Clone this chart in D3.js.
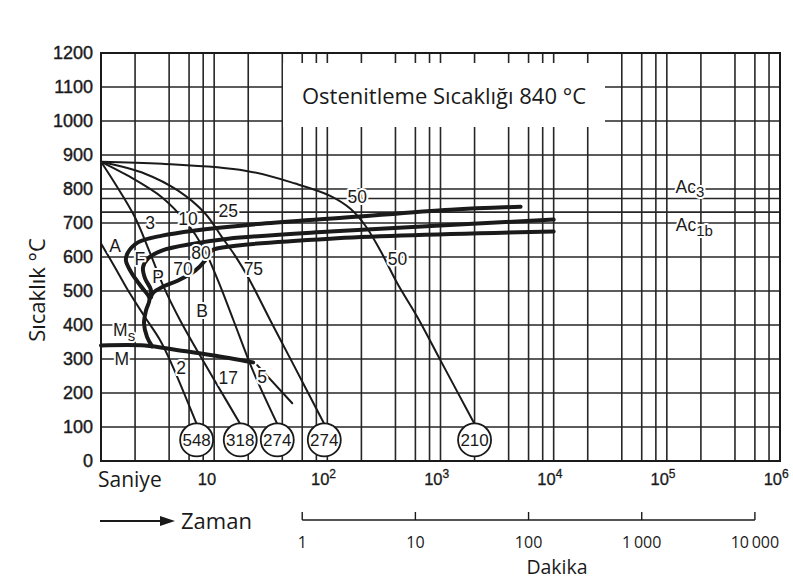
<!DOCTYPE html>
<html>
<head>
<meta charset="utf-8">
<script src="https://cdn.jsdelivr.net/npm/d3@7"></script>
<style>
  html, body { margin: 0; padding: 0; background: #fff; }
  svg { display: block; }
</style>
</head>
<body>
<svg id="chart" width="793" height="580"></svg>
<script>
// ---- Data -------------------------------------------------------------
// Temperature axis (°C)
const tempTicks = [0, 100, 200, 300, 400, 500, 600, 700, 800, 900, 1000, 1100, 1200];
// Extra horizontal rules for the Ac3 and Ac1b transformation temperatures
const acTemps = [772, 732];
// Time axis: decades (seconds) and the grid multiples drawn inside each decade
const decadeExponents = [1, 2, 3, 4, 5, 6];
const gridMultiples = [2, 4, 6, 8, 10];
// Second time scale in minutes
const minuteTicks = [1, 10, 100, 1000, 10000];
const minuteLabels = ["1", "10", "100", "1\u2009000", "10\u2009000"];

// Cooling curves: [time in s, temperature in °C]
const cool548  = [[1.0, 640], [1.33, 569], [1.73, 502], [2.45, 423], [3.33, 355], [4.25, 282], [7.0, 109]];
const cool318  = [[1, 880], [1.33, 816], [2.0, 716], [2.66, 619], [3.54, 516], [5.0, 414], [7.22, 320], [10.8, 220], [17.0, 109]];
const cool274a = [[1, 880], [1.73, 839], [3.47, 775], [5.7, 701], [8.1, 625], [10.8, 531], [14.8, 414], [21.9, 267], [36.1, 109]];
const cool274b = [[1, 880], [2.45, 845], [4.8, 795], [8.32, 728], [11.8, 657], [15.3, 604], [20, 540], [31.3, 414], [49, 290], [94, 109]];
const cool210  = [[1, 880], [3.47, 874], [18.8, 854], [52.1, 816], [106, 780], [160, 742], [217, 692], [294, 619], [416, 522], [626, 423], [1000, 296], [2000, 109]];
const coolingCurves = [cool548, cool318, cool274a, cool274b, cool210];
// Hardness (HV) at the end of each cooling curve
const hardness = [548, 318, 274, 274, 210];
const hardnessTemp = 62;

// Transformation lines [s, °C]
const ferriteStart  = [[5100, 748], [1226, 739], [144, 716], [26.1, 698], [6.79, 678], [3.47, 663], [2.12, 643], [1.73, 613], [1.66, 590], [1.87, 552], [2.29, 511], [2.68, 478], [2.5, 443], [2.4, 405], [2.55, 365], [2.83, 337]];
const pearliteStart = [[10000, 710], [106, 675], [13.3, 654], [6.79, 640], [3.45, 619], [2.61, 596], [2.35, 569], [2.45, 537], [2.75, 505], [2.75, 481]];
const pearliteEnd   = [[10000, 675], [106, 654], [11.8, 628], [9.5, 619], [8.32, 590], [6.79, 560], [4.8, 531], [3.45, 511], [2.9, 495], [2.75, 481]];
const martensiteLine = [[1, 340], [2.45, 340], [4.8, 326], [9.6, 311], [22.1, 290]];
const martensiteTail = [[24, 282], [49, 170]];

// Annotations: [text, subscript, time s, temperature °C]
const annotations = [
  ["A", "", 1.33, 634], ["F", "", 2.21, 596], ["P", "", 3.19, 543],
  ["70", "", 5.31, 566], ["80", "", 7.66, 613], ["B", "", 7.82, 443],
  ["75", "", 22.2, 566], ["3", "", 2.71, 701], ["10", "", 5.88, 713],
  ["25", "", 13.3, 736], ["50", "", 184, 778], ["50", "", 416, 596],
  ["2", "", 5.11, 273], ["17", "", 13.3, 244], ["5", "", 26.5, 249],
  ["M", "s", 1.6, 386], ["M", "", 1.53, 302],
  ["Ac", "3", 160000, 807], ["Ac", "1b", 175000, 695]
];

// ---- Layout -----------------------------------------------------------
const svg = d3.select("#chart");
const plotLeft = 101, plotRight = 780, plotTop = 53, plotBottom = 461;
const x = d3.scaleLog().domain([1, 1e6]).range([plotLeft, plotRight]);
const y = d3.scaleLinear().domain([0, 1200]).range([plotBottom, plotTop]);
const ink = "#1a1a1a";
const numFont = "'Liberation Sans', Arial, sans-serif";
const textFont = "'Open Sans', 'Noto Sans', sans-serif";

// ---- Grid -------------------------------------------------------------
const grid = svg.append("g").attr("stroke", "#262626").attr("stroke-width", 1.6);
const vGrid = [];
decadeExponents.forEach(e => gridMultiples.forEach(m => vGrid.push(m * Math.pow(10, e - 1))));
grid.selectAll("line.v").data(vGrid).join("line").attr("class", "v")
  .attr("x1", d => x(d)).attr("x2", d => x(d))
  .attr("y1", plotTop).attr("y2", plotBottom);
grid.selectAll("line.h").data(tempTicks.concat(acTemps)).join("line").attr("class", "h")
  .attr("x1", plotLeft).attr("x2", plotRight)
  .attr("y1", d => y(d)).attr("y2", d => y(d));

// Title panel blanks the grid behind it
svg.append("rect").attr("x", 283).attr("y", 63).attr("width", 322).attr("height", 64).attr("fill", "#fff");
svg.append("text").attr("x", 444).attr("y", 104).attr("text-anchor", "middle")
  .attr("font-family", textFont).attr("font-size", 22).attr("fill", ink)
  .text("Ostenitleme Sıcaklığı 840 °C");

// Frame
svg.append("rect").attr("x", plotLeft).attr("y", plotTop)
  .attr("width", plotRight - plotLeft).attr("height", plotBottom - plotTop)
  .attr("fill", "none").attr("stroke", ink).attr("stroke-width", 2);

// ---- Axes labels ------------------------------------------------------
svg.append("g").selectAll("text").data(tempTicks).join("text")
  .attr("x", 93).attr("y", d => y(d)).attr("dy", "0.36em").attr("text-anchor", "end")
  .attr("font-family", numFont).attr("font-size", 18).attr("fill", ink)
  .attr("stroke", ink).attr("stroke-width", 0.4)
  .text(d => d);

svg.append("text").attr("transform", "translate(45,290) rotate(-90)")
  .attr("text-anchor", "middle").attr("font-family", textFont).attr("font-size", 22).attr("fill", ink)
  .text("Sıcaklık °C");

const xl = svg.append("g").attr("font-family", numFont).attr("fill", ink)
  .attr("stroke", ink).attr("stroke-width", 0.3);
decadeExponents.forEach(e => {
  const px = x(Math.pow(10, e));
  xl.append("text").attr("x", px + 2).attr("y", 485).attr("text-anchor", "end")
    .attr("font-size", 16.5).text("10");
  if (e > 1) {
    xl.append("text").attr("x", px + 2).attr("y", 478).attr("font-size", 12).text(e);
  }
});
svg.append("text").attr("x", 98).attr("y", 487).attr("font-family", textFont).attr("font-size", 21)
  .attr("fill", ink).text("Saniye");

// Time arrow
svg.append("line").attr("x1", 100).attr("x2", 162).attr("y1", 521).attr("y2", 521)
  .attr("stroke", ink).attr("stroke-width", 2);
svg.append("path").attr("d", "M160,516 L175,521 L160,526 Z").attr("fill", ink);
svg.append("text").attr("x", 181).attr("y", 529).attr("font-family", textFont).attr("font-size", 22)
  .attr("fill", ink).text("Zaman");

// Minute scale (same time scale, 60 s per minute)
const mAxis = svg.append("g").attr("stroke", ink).attr("stroke-width", 1.4).attr("fill", "none");
mAxis.append("line").attr("x1", x(minuteTicks[0] * 60)).attr("x2", x(minuteTicks[minuteTicks.length - 1] * 60))
  .attr("y1", 520).attr("y2", 520);
mAxis.selectAll("line.t").data(minuteTicks).join("line").attr("class", "t")
  .attr("x1", d => x(d * 60)).attr("x2", d => x(d * 60)).attr("y1", 520).attr("y2", 512);
svg.append("g").selectAll("text").data(minuteTicks).join("text")
  .attr("x", d => x(d * 60)).attr("y", 547.5).attr("text-anchor", "middle")
  .attr("font-family", textFont).attr("font-size", 16).attr("fill", ink)
  .text((d, i) => minuteLabels[i]);
svg.append("text").attr("x", 557).attr("y", 574).attr("text-anchor", "middle")
  .attr("font-family", textFont).attr("font-size", 19.5).attr("fill", ink).text("Dakika");

// ---- Curves -----------------------------------------------------------
const line = d3.line().x(d => x(d[0])).y(d => y(d[1])).curve(d3.curveCatmullRom.alpha(0.5));
const curves = svg.append("g").attr("fill", "none").attr("stroke", ink)
  .attr("stroke-linecap", "round").attr("stroke-linejoin", "round");
curves.selectAll("path.cool").data(coolingCurves).join("path").attr("class", "cool")
  .attr("d", line).attr("stroke-width", 2);
curves.append("path").attr("d", line(martensiteTail)).attr("stroke-width", 2);
[ferriteStart, pearliteStart, pearliteEnd, martensiteLine].forEach(c =>
  curves.append("path").attr("d", line(c)).attr("stroke-width", 4));

// Annotations with a white halo that interrupts the grid
const ann = svg.append("g").attr("font-family", numFont).attr("font-size", 17.5).attr("fill", ink)
  .attr("stroke", "#fff").attr("stroke-width", 4).attr("paint-order", "stroke")
  .attr("stroke-linejoin", "round");
annotations.forEach(([t, sub, s, T]) => {
  const el = ann.append("text").attr("x", x(s)).attr("y", y(T)).attr("dy", "0.36em")
    .attr("text-anchor", "middle");
  el.append("tspan").text(t);
  if (sub) el.append("tspan").attr("dy", "0.3em").attr("font-size", 15).text(sub);
});

// Hardness circles
const hv = svg.append("g");
coolingCurves.forEach((c, i) => {
  const end = c[c.length - 1];
  const cx = x(end[0]), cy = y(hardnessTemp);
  hv.append("circle").attr("cx", cx).attr("cy", cy).attr("r", 16.5)
    .attr("fill", "#fff").attr("stroke", ink).attr("stroke-width", 1.8);
  hv.append("text").attr("x", cx).attr("y", cy).attr("dy", "0.36em").attr("text-anchor", "middle")
    .attr("font-family", numFont).attr("font-size", 17).attr("fill", ink).text(hardness[i]);
});
</script>
</body>
</html>
